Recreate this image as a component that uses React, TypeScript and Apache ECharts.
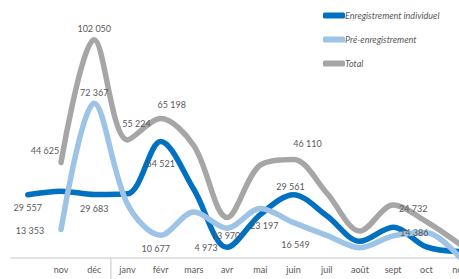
import React, { useEffect, useRef } from "react";
import * as echarts from "echarts";

const categories = ["", "nov", "déc", "janv", "févr", "mars", "avr", "mai", "juin", "juil", "août", "sept", "oct", "nov"];
const individuel = [29557, 31272, 29683, 30000, 54521, 32000, 4973, 20300, 29561, 19800, 7800, 14386, 5200, 3000];
const preEnregistrement = [null, 13353, 72367, 25224, 10677, 21500, 13970, 23197, 16549, 10600, 4800, 10346, 11800, 400];
const total = [null, 44625, 102050, 55224, 65198, 52500, 18943, 43497, 46110, 30400, 12600, 24732, 17000, 6500];
const seriesNames = ["Enregistrement individuel", "Pré-enregistrement", "Total"];
const yearBreakAfter = 2; // separator between "déc" and "janv"

// label offsets (px from point) per series index -> category index
const labelOffsets: Record<number, [number, number]>[] = [
  { 0: [0, 13], 2: [0, 13.5], 4: [0, 22], 6: [-21, 0], 8: [-3, -8], 11: [21, 5] },
  { 1: [-31, 1], 2: [0, -11], 4: [-5, 13], 6: [-1, 7], 7: [4, 17], 8: [2, 22] },
  { 1: [-16, -12], 2: [0, -11], 3: [9, -16], 4: [11, -14], 8: [14, -16], 11: [20, 3] },
];
const colors = ["#0070C0", "#9DC3E6", "#A6A6A6"];

const fmt = (v: number) => String(v).replace(/\B(?=(\d{3})+(?!\d))/g, " ");

export default function App() {
  const ref = useRef<HTMLDivElement>(null);
  useEffect(() => {
    document.body.style.margin = "0";
    if (!ref.current) return;
    const chart = echarts.init(ref.current, null, { renderer: "svg" });
    const all = [individuel, preEnregistrement, total];
    const series = all.map((arr, si) => ({
      name: seriesNames[si],
      type: "line",
      smooth: 0.33,
      symbol: "circle",
      symbolSize: 1,
      showSymbol: true,
      itemStyle: { color: colors[si] },
      lineStyle: { width: 5.5, color: colors[si], cap: "round", join: "round" },
      data: arr.map((v, i) => {
        const off = labelOffsets[si][i];
        if (v === null) return null;
        return {
          value: v,
          label: off
            ? {
                show: true,
                position: "inside",
                offset: off,
                formatter: () => fmt(v as number),
                color: "#595959",
                fontSize: 9,
                fontFamily: "Lato",
              }
            : { show: false },
        };
      }),
    }));
    chart.setOption({
      animation: false,
      color: colors,
      legend: {
        orient: "vertical",
        left: 318,
        top: 6,
        itemWidth: 22,
        itemHeight: 6,
        itemGap: 15,
        icon: "roundRect",
        data: seriesNames,
        textStyle: { fontStyle: "italic", color: "#595959", fontSize: 9, fontFamily: "Lato", padding: [0, 0, 0, -5] },
      },
      grid: { left: 11.2, right: 3.8, top: 1.4, bottom: 21 },
      xAxis: {
        type: "category",
        data: categories,
        boundaryGap: true,
        axisLine: { lineStyle: { color: "#d9d9d9", width: 1.5 } },
        axisTick: { show: false },
        axisLabel: { color: "#595959", fontSize: 9, fontFamily: "Lato", margin: 7, interval: 0 },
      },
      yAxis: { type: "value", min: 0, max: 120000, show: false, splitLine: { show: false } },
      series,
    });
    const xa = chart.convertToPixel({ xAxisIndex: 0 }, yearBreakAfter) as number;
    const xb = chart.convertToPixel({ xAxisIndex: 0 }, yearBreakAfter + 1) as number;
    const y0 = chart.convertToPixel({ yAxisIndex: 0 }, 0) as number;
    const sx = (xa + xb) / 2;
    chart.setOption({
      graphic: [
        {
          type: "line",
          shape: { x1: sx, y1: y0, x2: sx, y2: 279 },
          style: { stroke: "#d9d9d9", lineWidth: 1.5 },
          silent: true,
        },
      ],
    });
    return () => chart.dispose();
  }, []);
  return (
    <div style={{ width: 459, height: 279, overflow: "hidden", position: "relative", background: "#fff" }}>
      <div ref={ref} style={{ width: 480, height: 279 }} />
    </div>
  );
}
